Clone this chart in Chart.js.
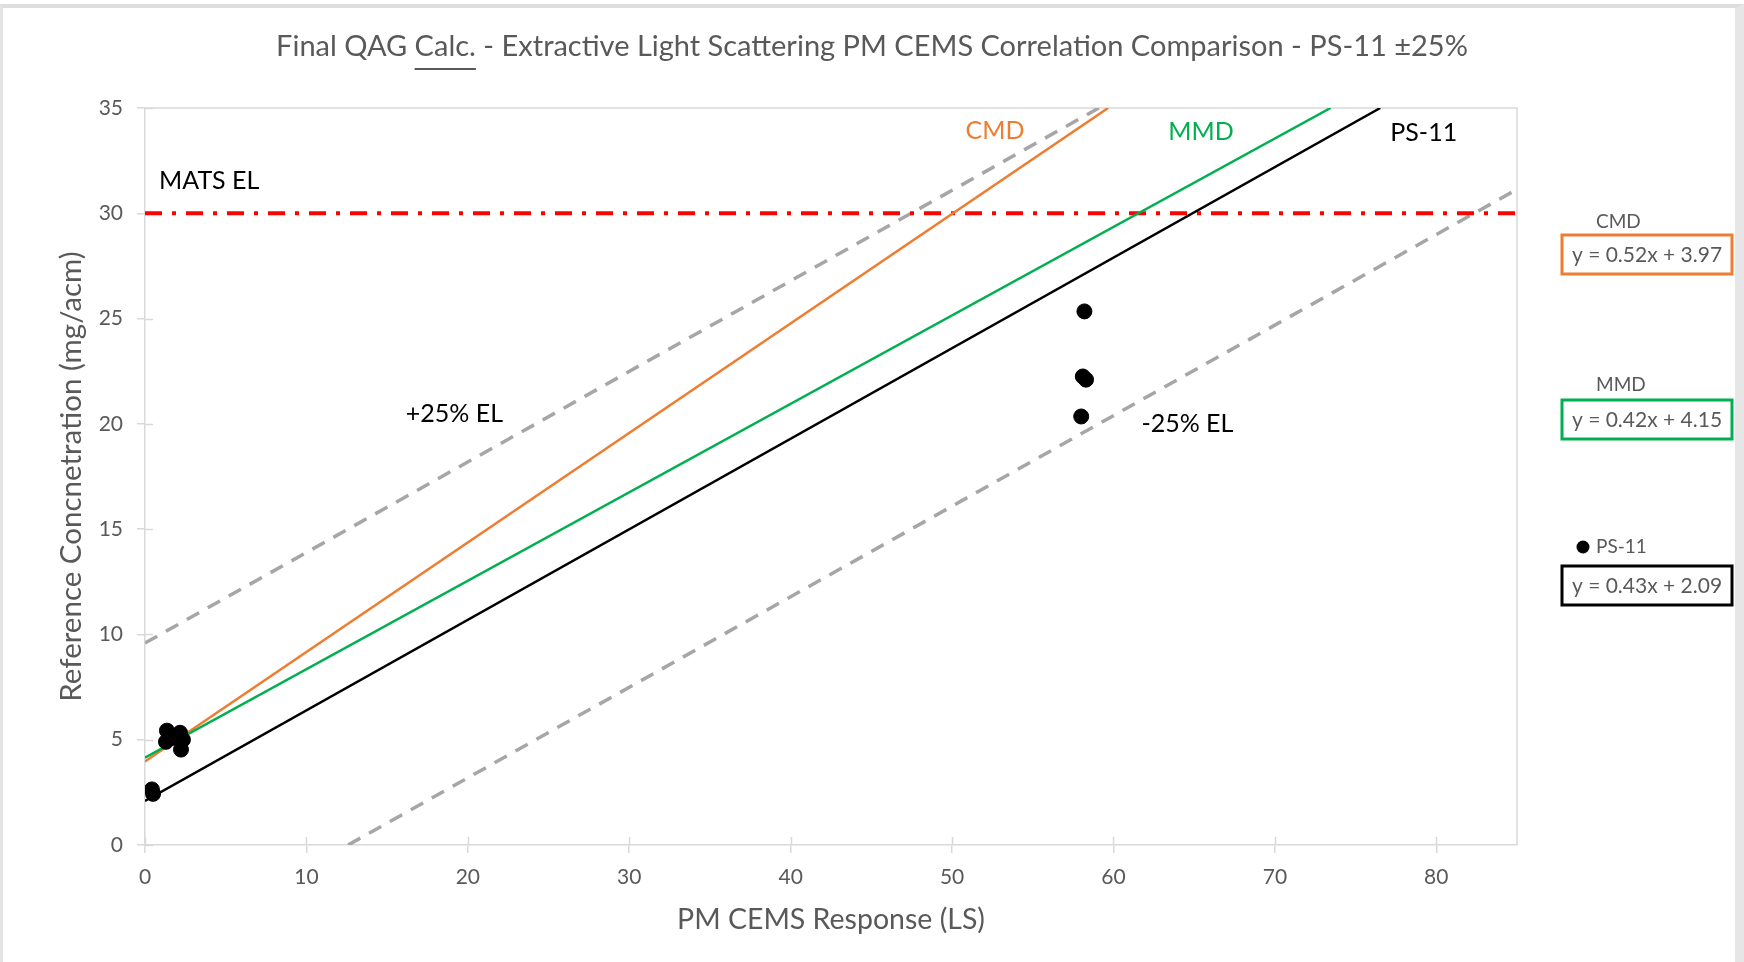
<!DOCTYPE html>
<html>
<head>
<meta charset="utf-8">
<title>PM CEMS Correlation Comparison</title>
<script src="https://cdn.jsdelivr.net/npm/chart.js@4.4.1/dist/chart.umd.min.js"></script>
<style>
    html, body { margin: 0; padding: 0; background: #fff; }
    #wrap { position: relative; width: 1744px; height: 962px; overflow: hidden; }
    #frame {
        position: absolute; left: 0; top: 4px; width: 1732px; height: 958px;
        border-top: 4px solid #dedede; border-left: 3px solid #e3e3e3; border-right: 9px solid #e6e6e6;
        pointer-events: none;
    }
    canvas { position: absolute; left: 0; top: 0; }
</style>
</head>
<body>
<div id="wrap">
    <canvas id="corrChart" width="1744" height="962"></canvas>
    <div id="frame"></div>
</div>
<script>
// PS-11 measured points (PM CEMS response vs reference concentration)
const psX = [1.36, 2.17, 2.35, 2.23, 1.30, 1.80, 0.43, 0.50, 58.2, 58.1, 58.3, 58.0];
const psY = [5.43, 5.33, 5.00, 4.53, 4.90, 5.09, 2.64, 2.43, 25.34, 22.25, 22.10, 20.35];

// Correlation lines, start and end points
const cmdLineX = [0, 59.67];
const cmdLineY = [3.97, 35];
const mmdLineX = [0, 73.45];
const mmdLineY = [4.15, 35];
const psLineX = [0, 76.53];
const psLineY = [2.09, 35];
const plusLineX = [0, 59.09];
const plusLineY = [9.59, 35];
const minusLineX = [12.58, 85];
const minusLineY = [0, 31.14];
const elLineX = [0, 85];
const elLineY = [30, 30];

// Axis ticks
const xTicks = [0, 10, 20, 30, 40, 50, 60, 70, 80];
const yTicks = [0, 5, 10, 15, 20, 25, 30, 35];

// Labels inside the plot (data coordinates)
const noteTexts = ['MATS EL', '+25% EL', '-25% EL', 'PS-11', 'CMD', 'MMD'];
const noteX = [0.87, 16.16, 61.73, 77.15, 50.84, 63.4];
const noteY = [31.54, 20.48, 20.0, 33.82, 33.93, 33.84];

// Equation boxes on the right
const eqNames = ['CMD', 'MMD', 'PS-11'];
const eqTexts = ['y = 0.52x + 3.97', 'y = 0.42x + 4.15', 'y = 0.43x + 2.09'];

const COLORS = {
    cmd: '#ED7D31',
    mmd: '#00B050',
    ps: '#000000',
    band: '#A6A6A6',
    el: '#FF0000',
    axis: '#D9D9D9',
    text: '#595959'
};
const FONT = 'Lato, "Open Sans", sans-serif';
const TITLE_TEXT = 'Final QAG Calc. - Extractive Light Scattering PM CEMS Correlation Comparison - PS-11 \u00B125%';

function toPoints(xs, ys) {
    return xs.map((x, i) => ({ x: x, y: ys[i] }));
}

function lineSet(label, xs, ys, color, width, dash) {
    return {
        label: label,
        data: toPoints(xs, ys),
        showLine: true,
        borderColor: color,
        backgroundColor: color,
        borderWidth: width,
        borderDash: dash || [],
        pointRadius: 0,
        pointHoverRadius: 0,
        tension: 0
    };
}

// Plot frame, inner tick marks, notes, underline and the right-hand equation boxes
const decorPlugin = {
    id: 'decor',
    beforeDatasetsDraw(chart) {
        const { ctx, chartArea: a, scales } = chart;
        ctx.save();
        ctx.strokeStyle = COLORS.axis;
        ctx.lineWidth = 1.5;
        ctx.beginPath();
        ctx.moveTo(a.left, a.top);
        ctx.lineTo(a.right, a.top);
        ctx.lineTo(a.right, a.bottom);
        xTicks.forEach(v => {
            const px = Math.round(scales.x.getPixelForValue(v)) + 0.5;
            ctx.moveTo(px, a.bottom);
            ctx.lineTo(px, a.bottom - 8);
        });
        yTicks.forEach(v => {
            const py = Math.round(scales.y.getPixelForValue(v)) + 0.5;
            ctx.moveTo(a.left, py);
            ctx.lineTo(a.left + 8, py);
        });
        ctx.stroke();
        ctx.restore();
    },
    afterDraw(chart) {
        const { ctx, scales } = chart;
        ctx.save();

        // notes inside plot
        const noteColors = ['#000', '#000', '#000', '#000', COLORS.cmd, COLORS.mmd];
        ctx.font = '25px ' + FONT;
        ctx.textBaseline = 'middle';
        ctx.textAlign = 'left';
        noteTexts.forEach((t, i) => {
            ctx.fillStyle = noteColors[i];
            ctx.fillText(t, scales.x.getPixelForValue(noteX[i]), scales.y.getPixelForValue(noteY[i]));
        });

        // underline "Calc." in title
        const tb = chart.titleBlock;
        if (tb) {
            const title = chart.options.plugins.title;
            ctx.font = title.font.size + 'px ' + FONT;
            const full = ctx.measureText(TITLE_TEXT).width;
            const pre = ctx.measureText('Final QAG ').width;
            const word = ctx.measureText('Calc.').width;
            const cx = (tb.left + tb.right) / 2;
            const x0 = cx - full / 2 + pre;
            const yLine = (tb.top + tb.bottom) / 2 + 4 + 11;
            ctx.strokeStyle = COLORS.text;
            ctx.lineWidth = 2;
            ctx.beginPath();
            ctx.moveTo(x0, yLine);
            ctx.lineTo(x0 + word, yLine);
            ctx.stroke();
        }

        // equation boxes
        const boxColors = [COLORS.cmd, COLORS.mmd, COLORS.ps];
        const nameY = [222, 385, 547];
        const boxTop = [235, 400, 566];
        const boxL = 1562, boxW = 170, boxH = 39;
        eqNames.forEach((name, i) => {
            ctx.fillStyle = COLORS.text;
            ctx.font = '19px ' + FONT;
            ctx.textAlign = 'left';
            ctx.textBaseline = 'middle';
            ctx.fillText(name, 1596, nameY[i]);
            if (i === 2) {
                ctx.fillStyle = '#000';
                ctx.beginPath();
                ctx.arc(1583, nameY[i], 6.5, 0, Math.PI * 2);
                ctx.fill();
            }
            ctx.strokeStyle = boxColors[i];
            ctx.lineWidth = 3;
            ctx.strokeRect(boxL, boxTop[i], boxW, boxH);
            ctx.fillStyle = COLORS.text;
            ctx.font = '21px ' + FONT;
            ctx.textAlign = 'center';
            ctx.fillText(eqTexts[i], boxL + boxW / 2, boxTop[i] + boxH / 2 + 1);
        });
        ctx.restore();
    }
};

const ctx = document.getElementById('corrChart');
new Chart(ctx, {
    type: 'scatter',
    data: {
        datasets: [
            {
                label: 'PS-11',
                data: toPoints(psX, psY),
                backgroundColor: COLORS.ps,
                borderColor: COLORS.ps,
                pointRadius: 7.5,
                pointHoverRadius: 7.5,
                showLine: false
            },
            lineSet('PS-11 fit', psLineX, psLineY, COLORS.ps, 2.5),
            lineSet('MMD', mmdLineX, mmdLineY, COLORS.mmd, 2.5),
            lineSet('CMD', cmdLineX, cmdLineY, COLORS.cmd, 2.5),
            lineSet('MATS EL', elLineX, elLineY, COLORS.el, 4, [17, 10, 4, 10]),
            lineSet('+25% EL', plusLineX, plusLineY, COLORS.band, 3.5, [14, 10]),
            lineSet('-25% EL', minusLineX, minusLineY, COLORS.band, 3.5, [14, 10])
        ]
    },
    options: {
        responsive: false,
        devicePixelRatio: 1,
        animation: false,
        layout: { padding: 0 },
        plugins: {
            legend: { display: false },
            tooltip: { enabled: false },
            title: {
                display: true,
                text: TITLE_TEXT,
                color: COLORS.text,
                font: { family: FONT, size: 29, weight: 'normal' },
                padding: { top: 29, bottom: 44.2 }
            }
        },
        scales: {
            x: {
                type: 'linear',
                min: 0,
                max: 85,
                afterFit(scale) { scale.height = 117; },
                afterBuildTicks(scale) { scale.ticks = xTicks.map(v => ({ value: v })); },
                grid: { drawOnChartArea: false, drawTicks: true, tickLength: 8, color: COLORS.axis, lineWidth: 1.5 },
                border: { color: COLORS.axis, width: 1.5 },
                ticks: { color: COLORS.text, font: { family: FONT, size: 21 }, padding: 12, maxRotation: 0 },
                title: {
                    display: true,
                    text: 'PM CEMS Response (LS)',
                    color: COLORS.text,
                    font: { family: FONT, size: 28.5 },
                    padding: { top: 4, bottom: 25 }
                }
            },
            y: {
                type: 'linear',
                min: 0,
                max: 35,
                afterFit(scale) { scale.width = 145; },
                afterBuildTicks(scale) { scale.ticks = yTicks.map(v => ({ value: v })); },
                grid: { drawOnChartArea: false, drawTicks: true, tickLength: 8, color: COLORS.axis, lineWidth: 1.5 },
                border: { color: COLORS.axis, width: 1.5 },
                ticks: { color: COLORS.text, font: { family: FONT, size: 21 }, padding: 14 },
                title: {
                    display: true,
                    text: 'Reference Concnetration (mg/acm)',
                    color: COLORS.text,
                    font: { family: FONT, size: 29.5 },
                    padding: { top: 54, bottom: 0 }
                }
            },
            // empty right-hand strip that holds the equation boxes
            side: {
                type: 'linear',
                position: 'right',
                display: true,
                afterFit(scale) { scale.width = 227; },
                grid: { display: false },
                border: { display: false },
                ticks: { display: false }
            }
        }
    },
    plugins: [decorPlugin]
});
</script>
</body>
</html>
